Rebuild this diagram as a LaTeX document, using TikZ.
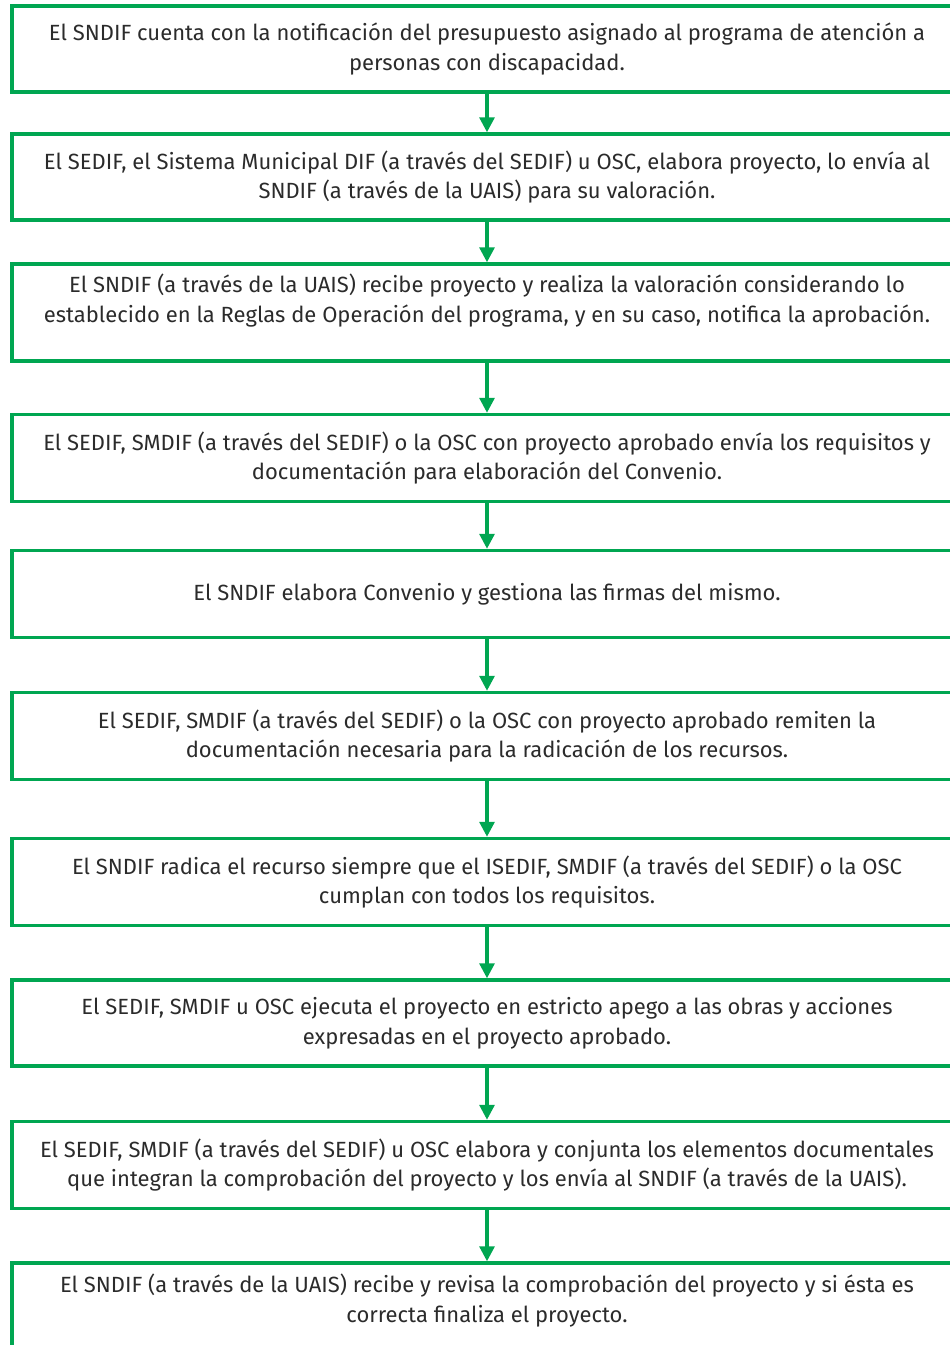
\documentclass[tikz,border=0pt]{standalone}
\usepackage{fontspec}
\setmainfont{Fira Sans}
\usetikzlibrary{arrows.meta,positioning}
\definecolor{flowgreen}{HTML}{00A651}
\definecolor{flowtext}{HTML}{2B2B2B}

\tikzset{
  stepbox/.style={draw=flowgreen, line width=3.5pt, minimum width=950pt,
    align=center, text=flowtext, inner sep=0pt,
    font=\fontsize{22}{29.5}\selectfont},
  flowarrow/.style={-{Triangle[length=15pt,width=15pt]}, draw=flowgreen, line width=3.2pt}
}

\begin{document}
\begin{tikzpicture}[x=1pt, y=-1pt]
  \useasboundingbox (0,0) rectangle (950,1345);
  \clip (0,0) rectangle (950,1345);

  % Steps
  \node[stepbox, minimum height=86pt] (notif) at (487,49) {El SNDIF cuenta con la notificación del presupuesto asignado al programa de atención a\\personas con discapacidad.};
  \node[stepbox, minimum height=86pt] (proyecto) at (487,177) {El SEDIF, el Sistema Municipal DIF (a través del SEDIF) u OSC, elabora proyecto, lo envía al\\SNDIF (a través de la UAIS) para su valoración.};
  \node[stepbox, text height=58pt, text depth=39pt] (valora) at (487,312.5) {El SNDIF (a través de la UAIS) recibe proyecto y realiza la valoración considerando lo\\establecido en la Reglas de Operación del programa, y en su caso, notifica la aprobación.};
  \node[stepbox, minimum height=87pt] (requisitos) at (487,458) {El SEDIF, SMDIF (a través del SEDIF) o la OSC con proyecto aprobado envía los requisitos y\\documentación para elaboración del Convenio.};
  \node[stepbox, minimum height=87pt] (convenio) at (487,594) {El SNDIF elabora Convenio y gestiona las firmas del mismo.};
  \node[stepbox, minimum height=87pt] (remiten) at (487,736) {El SEDIF, SMDIF (a través del SEDIF) o la OSC con proyecto aprobado remiten la\\documentación necesaria para la radicación de los recursos.};
  \node[stepbox, minimum height=87pt] (radica) at (487,882) {El SNDIF radica el recurso siempre que el ISEDIF, SMDIF (a través del SEDIF) o la OSC\\cumplan con todos los requisitos.};
  \node[stepbox, minimum height=86pt] (ejecuta) at (487,1023) {El SEDIF, SMDIF u OSC ejecuta el proyecto en estricto apego a las obras y acciones\\expresadas en el proyecto aprobado.};
  \node[stepbox, minimum height=87pt] (comprueba) at (487,1165) {El SEDIF, SMDIF (a través del SEDIF) u OSC elabora y conjunta los elementos documentales\\que integran la comprobación del proyecto y los envía al SNDIF (a través de la UAIS).};
  \node[stepbox, text height=59pt, text depth=100pt] (finaliza) at (487,1342.5) {El SNDIF (a través de la UAIS) recibe y revisa la comprobación del proyecto y si ésta es\\correcta finaliza el proyecto.};

  % Arrows
  \draw[flowarrow] (notif) -- (proyecto);
  \draw[flowarrow] (proyecto) -- (valora);
  \draw[flowarrow] (valora) -- (requisitos);
  \draw[flowarrow] (requisitos) -- (convenio);
  \draw[flowarrow] (convenio) -- (remiten);
  \draw[flowarrow] (remiten) -- (radica);
  \draw[flowarrow] (radica) -- (ejecuta);
  \draw[flowarrow] (ejecuta) -- (comprueba);
  \draw[flowarrow] (comprueba) -- (finaliza);
\end{tikzpicture}
\end{document}
